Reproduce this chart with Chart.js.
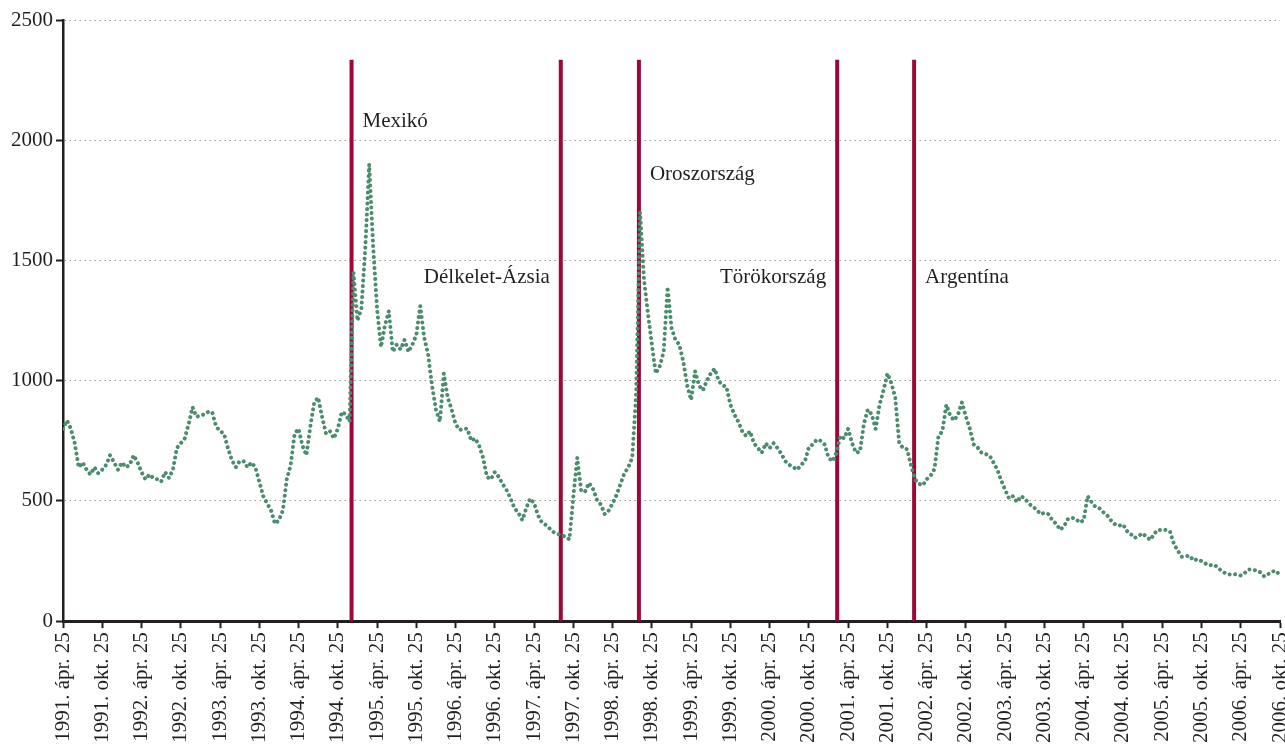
<!DOCTYPE html>
<html>
<head>
<meta charset="utf-8">
<script src="https://cdn.jsdelivr.net/npm/chart.js@4.4.1/dist/chart.umd.min.js"></script>
<style>
  html, body { margin: 0; padding: 0; background: #fff; }
  #wrap { width: 1285px; height: 747px; position: relative; }
</style>
</head>
<body>
<div id="wrap"><canvas id="chart"></canvas></div>
<script>
// tick labels, one every 10 points (half a year)
const tickLabels = [
    "1991. ápr. 25", "1991. okt. 25", "1992. ápr. 25", "1992. okt. 25",
    "1993. ápr. 25", "1993. okt. 25", "1994. ápr. 25", "1994. okt. 25",
    "1995. ápr. 25", "1995. okt. 25", "1996. ápr. 25", "1996. okt. 25",
    "1997. ápr. 25", "1997. okt. 25", "1998. ápr. 25", "1998. okt. 25",
    "1999. ápr. 25", "1999. okt. 25", "2000. ápr. 25", "2000. okt. 25",
    "2001. ápr. 25", "2001. okt. 25", "2002. ápr. 25", "2002. okt. 25",
    "2003. ápr. 25", "2003. okt. 25", "2004. ápr. 25", "2004. okt. 25",
    "2005. ápr. 25", "2005. okt. 25", "2006. ápr. 25", "2006. okt. 25"
];

// spread series, ~2.5 week steps from 1991 Apr to 2006 Oct
const spread = [
    800, 835, 800, 740, 640, 660, 630, 610, 640, 615,
    630, 650, 690, 660, 630, 660, 640, 650, 690, 660,
    620, 590, 610, 595, 590, 580, 620, 595, 630, 720,
    740, 760, 820, 890, 850, 855, 860, 870, 870, 810,
    790, 780, 720, 670, 640, 665, 665, 640, 660, 640,
    580, 520, 490, 460, 405, 420, 460, 590, 650, 780,
    800, 730, 690, 810, 910, 930, 850, 780, 790, 760,
    800, 870, 860, 830, 1450, 1250, 1300, 1550, 1900, 1560,
    1300, 1140, 1230, 1290, 1120, 1150, 1130, 1170, 1120, 1150,
    1190, 1310, 1180, 1110, 980, 880, 830, 1030, 930, 880,
    820, 795, 800, 800, 750, 760, 730, 680, 600, 590,
    620, 600, 570, 545, 510, 470, 450, 420, 470, 510,
    490, 440, 410, 400, 385, 370, 362, 358, 350, 340,
    520, 680, 540, 540, 575, 550, 505, 485, 445, 460,
    490, 525, 570, 615, 640, 680, 950, 1700, 1420, 1280,
    1150, 1030, 1060, 1120, 1390, 1220, 1170, 1150, 1080, 980,
    920, 1040, 980, 960, 1000, 1030, 1050, 1000, 980, 975,
    900, 860, 830, 790, 770, 790, 740, 720, 700, 740,
    720, 740, 720, 695, 665, 650, 640, 630, 650, 665,
    725, 735, 755, 750, 735, 680, 665, 700, 770, 760,
    800, 740, 700, 705, 820, 880, 860, 800, 900, 960,
    1030, 990, 930, 740, 720, 715, 650, 590, 572, 565,
    590, 605, 633, 770, 790, 900, 855, 835, 860, 910,
    850, 800, 735, 722, 700, 695, 689, 660, 630, 585,
    545, 510, 520, 495, 520, 510, 490, 475, 465, 445,
    450, 445, 420, 405, 380, 395, 425, 430, 425, 410,
    420, 520, 495, 475, 470, 453, 440, 418, 402, 397,
    402, 375, 362, 346, 355, 365, 350, 338, 365, 380,
    378, 380, 372, 320, 292, 268, 270, 272, 252, 258,
    250, 240, 232, 235, 226, 210, 200, 194, 196, 194,
    190, 200, 215, 215, 210, 203, 186, 196, 206, 210,
    190
];

// crises: name and position on the x scale (point index)
const eventNames = ["Mexikó", "Délkelet-Ázsia", "Oroszország", "Törökország", "Argentína"];
const eventAt = [73.5, 126.8, 146.7, 197.2, 216.8];

const serif = "'Liberation Serif', 'Times New Roman', serif";
const textColor = "#231f20";
const redColor = "#9b0a36";

// label placement for each crisis line: side and value height
const eventLabelPos = [
    { side: "right", y: 2079 },
    { side: "left", y: 1429 },
    { side: "right", y: 1858 },
    { side: "left", y: 1429 },
    { side: "right", y: 1429 }
];

const crisisLines = {
    id: "crisisLines",
    beforeDatasetsDraw(chart) {
        const { ctx, scales: { x, y } } = chart;
        ctx.save();
        ctx.strokeStyle = redColor;
        ctx.lineWidth = 4;
        eventAt.forEach((at) => {
            const px = x.getPixelForValue(at);
            ctx.beginPath();
            ctx.moveTo(px, y.getPixelForValue(2335));
            ctx.lineTo(px, y.getPixelForValue(0));
            ctx.stroke();
        });
        ctx.restore();
    },
    afterDatasetsDraw(chart) {
        const { ctx, scales: { x, y } } = chart;
        ctx.save();
        ctx.font = "21px " + serif;
        ctx.fillStyle = textColor;
        ctx.textBaseline = "middle";
        eventNames.forEach((name, i) => {
            const pos = eventLabelPos[i];
            const px = x.getPixelForValue(eventAt[i]);
            if (pos.side === "right") {
                ctx.textAlign = "left";
                ctx.fillText(name, px + 11, y.getPixelForValue(pos.y));
            } else {
                ctx.textAlign = "right";
                ctx.fillText(name, px - 11, y.getPixelForValue(pos.y));
            }
        });
        ctx.restore();
    }
};

const ctx = document.getElementById("chart").getContext("2d");
new Chart(ctx, {
    type: "line",
    data: {
        datasets: [{
            data: spread.map((v, i) => ({ x: i, y: v })),
            borderColor: "#4b8c6e",
            borderWidth: 4,
            borderDash: [0.01, 5.5],
            borderCapStyle: "round",
            pointRadius: 0,
            tension: 0
        }]
    },
    options: {
        responsive: true,
        maintainAspectRatio: false,
        animation: false,
        layout: { padding: { top: 0, left: 8, right: 0, bottom: 0 } },
        plugins: {
            legend: { display: false },
            tooltip: { enabled: false }
        },
        scales: {
            x: {
                type: "linear",
                min: 0,
                max: spread.length - 1,
                afterFit: (scale) => {
                    // let the last rotated label run to the edge, as in the original
                    scale.paddingLeft = 0;
                    scale.paddingRight = 5;
                },
                grid: {
                    drawOnChartArea: false,
                    drawTicks: true,
                    tickLength: 7,
                    tickWidth: 2,
                    tickColor: textColor
                },
                border: { display: true, color: textColor, width: 3 },
                ticks: {
                    stepSize: 10,
                    autoSkip: false,
                    minRotation: 90,
                    maxRotation: 90,
                    padding: 4,
                    color: textColor,
                    font: { family: serif, size: 21 },
                    callback: (v) => tickLabels[Math.round(v / 10)]
                }
            },
            y: {
                min: 0,
                max: 2500,
                afterFit: (scale) => {
                    scale.paddingTop = 20;
                },
                grid: {
                    color: "#9a9a9a",
                    lineWidth: 1,
                    tickLength: 7,
                    tickWidth: 2,
                    tickColor: textColor,
                    tickBorderDash: []
                },
                border: { display: true, color: textColor, width: 2.5, dash: [1.5, 3.5] },
                ticks: {
                    stepSize: 500,
                    padding: 3,
                    color: textColor,
                    font: { family: serif, size: 21 },
                    callback: (v) => String(v)
                }
            }
        }
    },
    plugins: [crisisLines]
});
</script>
</body>
</html>
